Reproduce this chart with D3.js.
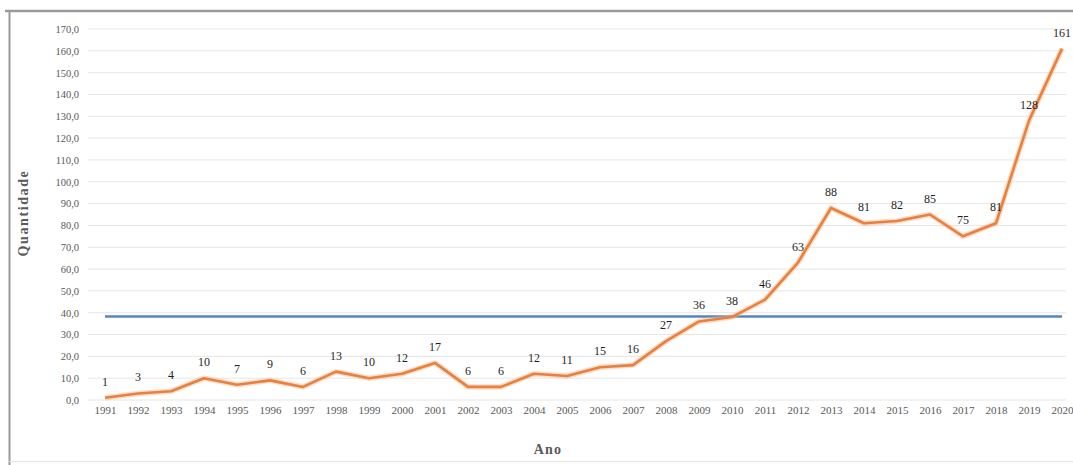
<!DOCTYPE html>
<html>
<head>
<meta charset="utf-8">
<script src="https://cdn.jsdelivr.net/npm/d3@7"></script>
<style>
  html, body { margin: 0; padding: 0; background: #fff; }
  svg { display: block; }
  text { font-family: "Liberation Serif", "DejaVu Serif", serif; }
</style>
</head>
<body>
<script>
// Yearly counts, 1991–2020
const years = ["1991","1992","1993","1994","1995","1996","1997","1998","1999","2000",
               "2001","2002","2003","2004","2005","2006","2007","2008","2009","2010",
               "2011","2012","2013","2014","2015","2016","2017","2018","2019","2020"];
const counts = [1, 3, 4, 10, 7, 9, 6, 13, 10, 12,
                17, 6, 6, 12, 11, 15, 16, 27, 36, 38,
                46, 63, 88, 81, 82, 85, 75, 81, 128, 161];
const yTicks = [0,10,20,30,40,50,60,70,80,90,100,110,120,130,140,150,160,170];
const xTitle = "Ano";
const yTitle = "Quantidade";

const W = 1073, H = 465;
const svg = d3.select("body").append("svg").attr("width", W).attr("height", H);

// soft glow for the series line
const defs = svg.append("defs");
const f = defs.append("filter").attr("id", "soft").attr("x", "-5%").attr("y", "-5%").attr("width", "110%").attr("height", "110%");
f.append("feGaussianBlur").attr("stdDeviation", 0.7);

// chart frame
svg.append("line").attr("x1", 5).attr("x2", W).attr("y1", 11).attr("y2", 11)
  .attr("stroke", "#9a9a9a").attr("stroke-width", 2.5);
svg.append("line").attr("x1", 9.5).attr("x2", 9.5).attr("y1", 11).attr("y2", H)
  .attr("stroke", "#9a9a9a").attr("stroke-width", 2);
svg.append("line").attr("x1", 9).attr("x2", W).attr("y1", 461.5).attr("y2", 461.5)
  .attr("stroke", "#e4e4e4").attr("stroke-width", 1);

const x = d3.scalePoint().domain(years).range([105, 1062]);
const y = d3.scaleLinear().domain([0, 170]).range([400, 29]);

// horizontal gridlines
svg.append("g").selectAll("line").data(yTicks).join("line")
  .attr("x1", 88).attr("x2", 1066)
  .attr("y1", d => y(d)).attr("y2", d => y(d))
  .attr("stroke", "#e6e6e6").attr("stroke-width", 1);

// y axis tick labels
const fmt = d => d3.format(".1f")(d).replace(".", ",");
const yAxis = d3.axisLeft(y).tickValues(yTicks).tickFormat(fmt).tickSize(0).tickPadding(0);
const gy = svg.append("g").attr("transform", "translate(79,0)").call(yAxis);
gy.select(".domain").remove();
gy.selectAll("text").attr("font-size", 10.5).attr("fill", "#595959")
  .attr("font-family", "'Liberation Serif', serif");

// x axis tick labels
const xAxis = d3.axisBottom(x).tickSize(0).tickPadding(0);
const gx = svg.append("g").attr("transform", "translate(0,406)").call(xAxis);
gx.select(".domain").remove();
gx.selectAll("text").attr("font-size", 11).attr("fill", "#595959")
  .attr("font-family", "'Liberation Serif', serif");

// mean line
const mean = d3.mean(counts);
svg.append("line")
  .attr("x1", x(years[0])).attr("x2", x(years[years.length - 1]))
  .attr("y1", y(mean)).attr("y2", y(mean))
  .attr("stroke", "#5088c0").attr("stroke-width", 2.5);

// series line
const line = d3.line().x((d, i) => x(years[i])).y(d => y(d));
svg.append("path").datum(counts)
  .attr("d", line).attr("fill", "none")
  .attr("stroke", "#f4b183").attr("stroke-width", 5.5).attr("stroke-opacity", 0.45)
  .attr("stroke-linejoin", "round").attr("filter", "url(#soft)");
svg.append("path").datum(counts)
  .attr("d", line).attr("fill", "none")
  .attr("stroke", "#e8803f").attr("stroke-width", 2.6)
  .attr("stroke-linejoin", "round");

// value labels
svg.append("g").selectAll("text").data(counts).join("text")
  .attr("x", (d, i) => x(years[i]))
  .attr("y", d => y(d) - 12)
  .attr("text-anchor", "middle")
  .attr("font-size", 12).attr("fill", "#1f1f1f")
  .text(d => d);

// axis titles
svg.append("text").attr("x", 548).attr("y", 454).attr("text-anchor", "middle")
  .attr("font-size", 14).attr("font-weight", "bold").attr("letter-spacing", 1.2)
  .attr("fill", "#595959").text(xTitle);
svg.append("text").attr("transform", "translate(28,213) rotate(-90)").attr("text-anchor", "middle")
  .attr("font-size", 14).attr("font-weight", "bold").attr("letter-spacing", 1.6)
  .attr("fill", "#595959").text(yTitle);
</script>
</body>
</html>
